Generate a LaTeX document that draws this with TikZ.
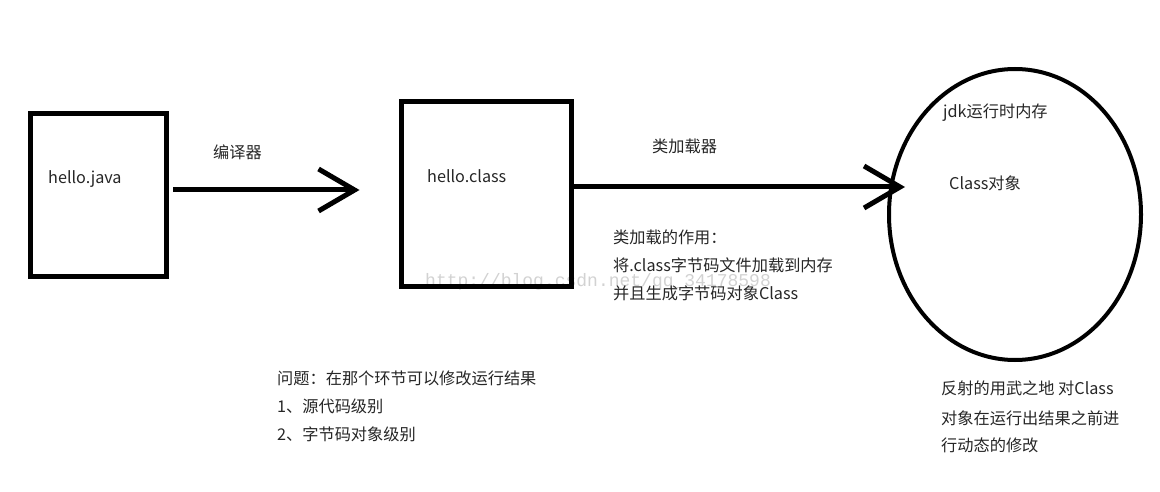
\documentclass[tikz,border=0pt]{standalone}
\usepackage{fontspec}
\setmainfont{Noto Sans CJK SC}
\newfontfamily\wmfont{Liberation Mono}
\usetikzlibrary{arrows.meta,shapes.geometric,calc}

\begin{document}
\begin{tikzpicture}[x=1pt, y=-1pt,
  box/.style={draw, line width=5pt, inner sep=0pt, outer sep=0pt},
  txt/.style={anchor=west, inner sep=0pt, text=black!85, font=\fontsize{16.2}{19}\selectfont},
  conn/.style={line width=5pt, -{Straight Barb[length=36pt, width=42pt]}}]
  \useasboundingbox (0,0) rectangle (1160,492);
  % watermark
  \node[anchor=west, inner sep=0pt, text=gray!35, font=\wmfont\fontsize{18}{18}\selectfont] (wm) at (425,282) {http://blog.csdn.net/qq\_34178598};
  % source file
  \node[box, minimum width=136.5pt, minimum height=163pt] (java) at (98.25,195) {};
  \node[txt] (javatxt) at (48,179) {hello.java};
  % class file
  \node[box, minimum width=170pt, minimum height=185pt] (cls) at (486.5,194) {};
  \node[txt] (clstxt) at (427,176) {hello.class};
  % runtime memory
  \node[ellipse, draw, line width=4pt, inner sep=0pt, outer sep=0pt, minimum width=252pt, minimum height=291pt] (mem) at (1015,214.5) {};
  \node[txt] (memtxt) at (943,113) {jdk运行时内存};
  \node[txt] (objtxt) at (949,183) {Class对象};
  % arrows
  \draw[conn] ($(java.east)+(6.5,-5)$) -- ($(cls.west)+(-42,-4)$);
  \node[txt] (compiler) at (213,152) {编译器};
  \draw[conn] ($(cls.east)+(2.5,-7)$) -- ($(mem.west)+(16,-27.5)$);
  \node[txt] (loader) at (652,146) {类加载器};
  % notes
  \node[txt] (role1) at (613,237) {类加载的作用：};
  \node[txt] (role2) at (613,265) {将.class字节码文件加载到内存};
  \node[txt] (role3) at (613,293) {并且生成字节码对象Class};
  \node[txt] (q0) at (277,378) {问题：在那个环节可以修改运行结果};
  \node[txt] (q1) at (277,406) {1、源代码级别};
  \node[txt] (q2) at (277,434) {2、字节码对象级别};
  \node[txt] (r1) at (941,388) {反射的用武之地 对Class};
  \node[txt] (r2) at (941,418) {对象在运行出结果之前进};
  \node[txt] (r3) at (941,445) {行动态的修改};
\end{tikzpicture}
\end{document}
